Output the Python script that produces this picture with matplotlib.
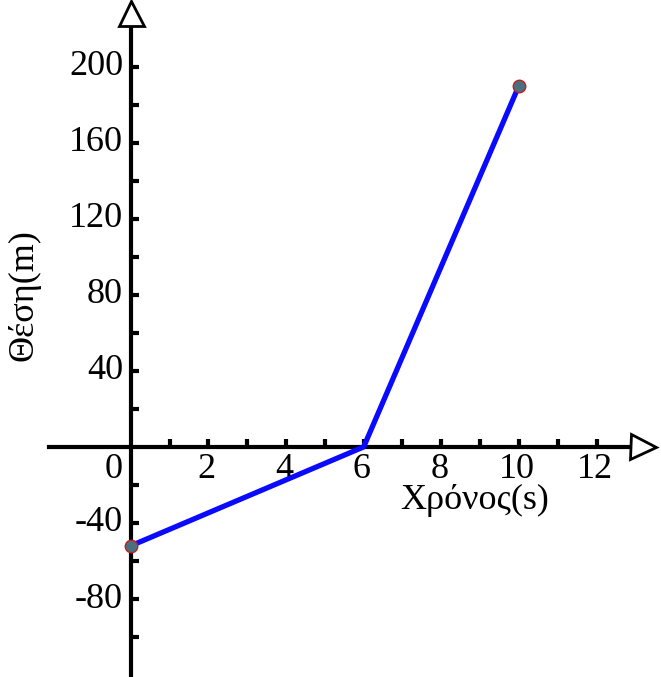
import matplotlib
matplotlib.use("Agg")
import matplotlib.pyplot as plt

# Data
time_s = [0, 6, 10]
position_m = [-52, 0, 190]
x_tick_labels = [0, 2, 4, 6, 8, 10, 12]
y_tick_labels = [-80, -40, 40, 80, 120, 160, 200]
x_label = "Χρόνος(s)"
y_label = "Θέση(m)"

plt.rcParams['font.family'] = ['Liberation Serif', 'DejaVu Serif']

fig = plt.figure(figsize=(6.61, 6.77), dpi=100)
ax = fig.add_axes([0, 0, 1, 1])
ax.set_xlim(-3.37, 13.66)
ax.set_ylim(-121, 235)

for s in ['top', 'right']:
    ax.spines[s].set_visible(False)
ax.spines['left'].set_position(('data', 0))
ax.spines['bottom'].set_position(('data', 0))
ax.spines['left'].set_linewidth(3)
ax.spines['bottom'].set_linewidth(3)
ax.spines['left'].set_bounds(-121, 224)
ax.spines['bottom'].set_bounds(-2.1, 12.9)

ax.set_xticks(range(1, 13))
ax.set_yticks([v for v in range(-100, 201, 20) if v != 0])
ax.tick_params(direction='in', length=6, width=3, labelleft=False, labelbottom=False)

# Arrow heads (hollow triangles)
ax.plot([13.2], [0], marker='>', markersize=18, markerfacecolor='white',
        markeredgecolor='black', markeredgewidth=2, clip_on=False, zorder=5)
ax.plot([0], [228], marker='^', markersize=18, markerfacecolor='white',
        markeredgecolor='black', markeredgewidth=2, clip_on=False, zorder=5)

# Tick labels
for v in x_tick_labels:
    xo = -0.45 if v == 0 else -0.05
    ax.text(v + xo, -3, str(v), ha='center', va='top', fontsize=26)
for v in y_tick_labels:
    ax.text(-0.2, v, str(v), ha='right', va='center', fontsize=26)

# Data line
ax.plot(time_s, position_m, color='#0a0aff', linewidth=3.8, zorder=6, solid_capstyle='butt')
ax.plot([time_s[0], time_s[-1]], [position_m[0], position_m[-1]], linestyle='none',
        marker='o', markersize=9, markerfacecolor='#4a7080', markeredgecolor='#c02020',
        markeredgewidth=1, zorder=7, clip_on=False)

ax.text(8.85, -19.5, x_label, ha='center', va='top', fontsize=26)
ax.text(-2.75, 80, y_label, ha='center', va='center', rotation=90, fontsize=26)

fig.savefig('out.png', dpi=100)
